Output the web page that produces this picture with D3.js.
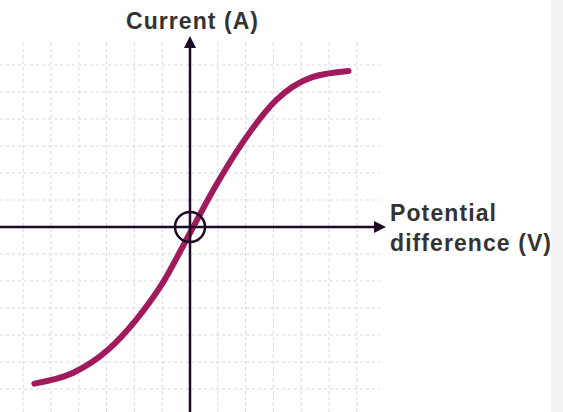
<!DOCTYPE html>
<html><head><meta charset="utf-8">
<script src="https://cdn.jsdelivr.net/npm/d3@7"></script>
<style>body{margin:0;background:#fff}svg{display:block}</style>
</head><body>
<svg width="563" height="412"></svg>
<script>
// I-V curve points (grid units, origin at axis crossing)
var voltage = [-5.6, -4.2, -2.95, -1.94, -1.0, 0, 0.9, 1.94, 3.1, 4.4, 5.7];
var current = [-5.8, -5.4, -4.55, -3.44, -2.1, -0.22, 1.48, 3.2, 4.7, 5.55, 5.78];
var gridX = d3.range(-6, 7);
var gridY = d3.range(-6, 7);

var svg = d3.select('svg');
var x = d3.scaleLinear().domain([0, 1]).range([190, 217.8]);
var y = d3.scaleLinear().domain([0, 1]).range([227, 200]);

svg.append('rect').attr('x', 551).attr('y', 0).attr('width', 12).attr('height', 412).attr('fill', '#f3f3f3');

var grid = svg.append('g').attr('stroke', '#d6d6ea').attr('stroke-width', 1).attr('stroke-dasharray', '3,3');
grid.selectAll('.gx').data(gridX).enter().append('line')
  .attr('x1', d => x(d)).attr('x2', d => x(d)).attr('y1', 43).attr('y2', 412);
grid.selectAll('.gy').data(gridY).enter().append('line')
  .attr('y1', d => y(d)).attr('y2', d => y(d)).attr('x1', 0).attr('x2', 380);

var line = d3.line().curve(d3.curveMonotoneX)
  .x((d, i) => x(voltage[i])).y(d => y(d));
svg.append('path').datum(current).attr('d', line)
  .attr('fill', 'none').attr('stroke', '#a11a5c').attr('stroke-width', 6).attr('stroke-linecap', 'round');

var ax = '#1e0a24';
svg.append('line').attr('x1', 0).attr('x2', 376).attr('y1', y(0)).attr('y2', y(0)).attr('stroke', ax).attr('stroke-width', 2.5);
svg.append('line').attr('x1', x(0)).attr('x2', x(0)).attr('y1', 46).attr('y2', 412).attr('stroke', ax).attr('stroke-width', 2.5);
svg.append('path').attr('d', 'M' + (x(0) - 6) + ',48L' + x(0) + ',36L' + (x(0) + 6) + ',48Z').attr('fill', ax);
svg.append('path').attr('d', 'M374,' + (y(0) - 6) + 'L386,' + y(0) + 'L374,' + (y(0) + 6) + 'Z').attr('fill', ax);
svg.append('circle').attr('cx', x(0)).attr('cy', y(0)).attr('r', 15).attr('fill', 'none').attr('stroke', ax).attr('stroke-width', 2.5);

var t = svg.append('g').attr('font-family', 'Liberation Sans, Arial, sans-serif').attr('font-weight', 'bold').attr('font-size', 23).attr('fill', '#333');
t.append('text').attr('x', 192).attr('y', 29).attr('text-anchor', 'middle').attr('textLength', 132).text('Current (A)');
t.append('text').attr('x', 390).attr('y', 221).attr('textLength', 106).text('Potential');
t.append('text').attr('x', 390).attr('y', 251).attr('textLength', 161).text('difference (V)');
</script>
</body></html>
